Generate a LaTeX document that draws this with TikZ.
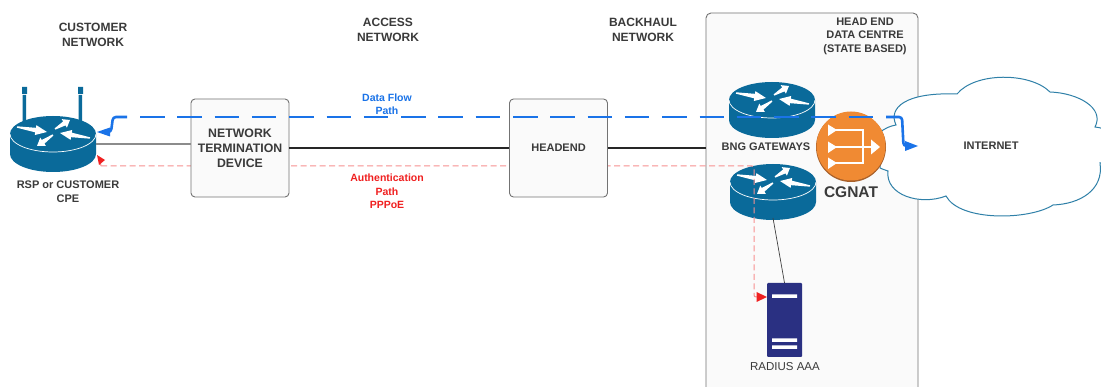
\documentclass[tikz,border=0pt]{standalone}
\usepackage{fontspec}
\setmainfont{Liberation Sans}
\usetikzlibrary{arrows.meta,calc}
\definecolor{routerblue}{HTML}{0A6A9A}
\definecolor{txt}{HTML}{3A3A3A}
\definecolor{flow}{HTML}{1A73E8}
\definecolor{authred}{HTML}{F02020}
\definecolor{authpink}{HTML}{F79090}
\definecolor{cloudline}{HTML}{2F80A8}
\definecolor{cgorange}{HTML}{F08A33}
\definecolor{cgdark}{HTML}{A8602A}
\definecolor{srv}{HTML}{2A3082}
\newcommand{\warr}[2]{%
  \coordinate (wa) at #1; \coordinate (wb) at #2;
  \coordinate (wm) at ($(wa)!0.62!(wb)$);
  \fill[white] ($(wa)!0.7pt!90:(wb)$) -- ($(wm)!2.3pt!90:(wb)$) -- ($(wm)!5pt!90:(wb)$) -- (wb)
    -- ($(wm)!5pt!-90:(wb)$) -- ($(wm)!2.3pt!-90:(wb)$) -- ($(wa)!0.7pt!-90:(wb)$) -- cycle;}
\tikzset{
  x=1pt,y=-1pt,
  lbl/.style={font=\fontsize{12}{15}\selectfont\bfseries,text=txt,align=center,inner sep=0pt},
  boxnode/.style={draw=black!55,fill=black!2,rounded corners=4pt,line width=0.9pt,minimum width=98pt,minimum height=98pt,inner sep=0pt,
     font=\fontsize{12.3}{15}\selectfont\bfseries,text=txt,align=center},
  routerbox/.style={minimum width=86pt,minimum height=56pt,inner sep=0pt},
  flowsolid/.style={draw=flow,line width=2.6pt,rounded corners=3pt},
  flowline/.style={flowsolid,dash pattern=on 24.5pt off 12.8pt},
  flowtip/.style={draw=none,fill=flow},
  authline/.style={draw=authpink,line width=1pt,dash pattern=on 6pt off 3.5pt,rounded corners=2pt},
  router/.pic={
    \fill[routerblue] (-43,-10) -- (-43,10) .. controls (-43,19.94) and (-23.75,28) .. (0,28)
       .. controls (23.75,28) and (43,19.94) .. (43,10) -- (43,-10)
       .. controls (43,-19.94) and (23.75,-28) .. (0,-28)
       .. controls (-23.75,-28) and (-43,-19.94) .. (-43,-10) -- cycle;
    \draw[white,line width=0.7pt] (-43,-10) .. controls (-43,-0.06) and (-23.75,8) .. (0,8)
       .. controls (23.75,8) and (43,-0.06) .. (43,-10);
    \warr{(-36,-17)}{(-6,-12)}
    \warr{(2,-15)}{(17,-24)}
    \warr{(37,-6)}{(7,-11)}
    \warr{(0,-9)}{(-16,2)}
  }
}
\begin{document}
\begin{tikzpicture}
\useasboundingbox (0,0) rectangle (1101,387);
\clip (0,0) rectangle (1101,387);
\fill[white] (0,0) rectangle (1101,387);

% data centre box
\node[boxnode,minimum width=212pt,minimum height=392pt,rounded corners=5pt] (dc) at (812,209) {};

% headings
\node[lbl] (h1) at (93,35) {CUSTOMER\\NETWORK};
\node[lbl] (h2) at (388,30) {ACCESS\\NETWORK};
\node[lbl] (h3) at (643,30) {BACKHAUL\\NETWORK};
\node[lbl,font=\fontsize{11}{13.5}\selectfont\bfseries] (h4) at (865,36) {HEAD END\\DATA CENTRE\\(STATE BASED)};

% cloud
\path[draw=cloudline,fill=white,line width=1pt]
  (880,132) .. controls (886,128) and (890,126) .. (896,125)
  .. controls (888,108) and (905,92) .. (957,94)
  .. controls (975,72) and (1030,72) .. (1050,92)
  .. controls (1078,93) and (1105,108) .. (1095,127)
  .. controls (1098,127) and (1100,128) .. (1104,129)
  -- (1104,163) -- (1100,163)
  .. controls (1104,190) and (1080,204) .. (1053,205)
  .. controls (1030,220) and (960,222) .. (946,196)
  .. controls (920,206) and (885,195) .. (888,171)
  .. controls (885,170) and (882,169) .. (880,168) -- cycle;
\node[lbl,font=\fontsize{11}{13}\selectfont\bfseries] (inet) at (991,146) {INTERNET};

% routers
\node[routerbox] (r1) at (53,144) {};
\node[routerbox] (r2) at (772,110) {};
\node[routerbox] (r3) at (773,192) {};
\fill[routerblue] (22,87) rectangle (27,94) (22.5,95) rectangle (26,122)
                  (78,87) rectangle (83,94) (78.5,95) rectangle (82,122);
\pic at (r1) {router};
\pic at (r2) {router};
\pic at (r3) {router};
\node[lbl,font=\fontsize{11}{14}\selectfont\bfseries] (t1) at (68,191.5) {RSP or CUSTOMER\\CPE};
\node[lbl,font=\fontsize{11}{13}\selectfont\bfseries] (t2) at (766,147) {BNG GATEWAYS};

% server
\node[fill=srv,minimum width=35pt,minimum height=74pt,inner sep=0pt,rounded corners=1pt] (aaa) at (784.5,320) {};
\fill[white] (772,294.5) rectangle (797,298) (772,338.5) rectangle (797,342) (772,345.5) rectangle (797,349);
\node[font=\fontsize{11.5}{14}\selectfont,text=txt,inner sep=0pt] (t3) at (785,367) {RADIUS AAA};
\draw[black!75,line width=0.7pt] (773,218) -- (aaa.north);

% auth path (runs behind the two boxes)
\coordinate (a0) at (97,155);
\coordinate (a1) at (101,166);
\coordinate (a2) at (754,166);
\coordinate (a3) at (754,297);
\coordinate (a4) at (757,297);
\coordinate (a5) at (767,297);
\draw[authline] (a1) -- (a2) -- (a3) -- (a4);
\draw[authline,dash pattern=] (a1) -- (100,161);
\fill[authred] (a0) -- (105,160) -- (99,165) -- cycle;
\fill[authred] (a5) -- (756.5,292) -- (756.5,302) -- cycle;

% boxes
\node[boxnode] (ntd) at (240,148) {NETWORK\\TERMINATION\\DEVICE};
\node[boxnode] (he) at (558.5,148) {\fontsize{11}{13}\selectfont HEADEND};

% links
\draw[black!45,line width=1.2pt] (r1.east) -- (ntd.west |- r1.east);
\draw[black!85,line width=2.8pt] (ntd.east) -- (he.west);
\draw[black!85,line width=2.8pt] (he.east) -- (dc.west |- he.east);

% CGNAT
\node[circle,fill=cgdark,minimum size=70pt,inner sep=0pt] (cg) at (851,147) {};
\fill[cgorange] (851,146) circle[radius=34.5];
\draw[white,line width=2.8pt] (836,130) -- (863,130) -- (863,163) -- (836,163) (836,147) -- (872,147);
\fill[white] (828,124.5) -- (837,130) -- (828,136) -- cycle
             (828,141.5) -- (837,147) -- (828,153) -- cycle
             (828,157.5) -- (837,163) -- (828,169) -- cycle
             (871,139.5) -- (880,147) -- (871,154.5) -- cycle;
\node[font=\fontsize{15.5}{18}\selectfont\bfseries,text=txt,inner sep=0pt] (t4) at (851,192) {CGNAT};

% data flow path
\coordinate (f0) at (97,132);
\coordinate (f1) at (108,132);
\coordinate (f2) at (127,117);
\coordinate (f3) at (140,117);
\coordinate (f4) at (874,117);
\coordinate (f5) at (886,117);
\coordinate (f6) at (907,146);
\coordinate (f7) at (918,146);
\draw[flowsolid] (f1) -- (111,132) -- (113,117) -- (f2);
\draw[flowline] (f3) -- (f4);
\draw[flowsolid] (f5) -- (902,117) -- (903.5,146) -- (f6);
\fill[flowtip] (f0) -- (110,127.5) -- (110,136.5) -- cycle;
\fill[flowtip] (f7) -- (905,141) -- (905,151) -- cycle;

% path labels
\node[font=\fontsize{10.5}{13}\selectfont\bfseries,text=flow,align=center,inner sep=0pt] (t5) at (387,104.5) {Data Flow\\Path};
\node[font=\fontsize{10.5}{13.5}\selectfont\bfseries,text=authred,align=center,inner sep=0pt] (t6) at (387,191.5) {Authentication\\Path\\PPPoE};
\end{tikzpicture}
\end{document}
